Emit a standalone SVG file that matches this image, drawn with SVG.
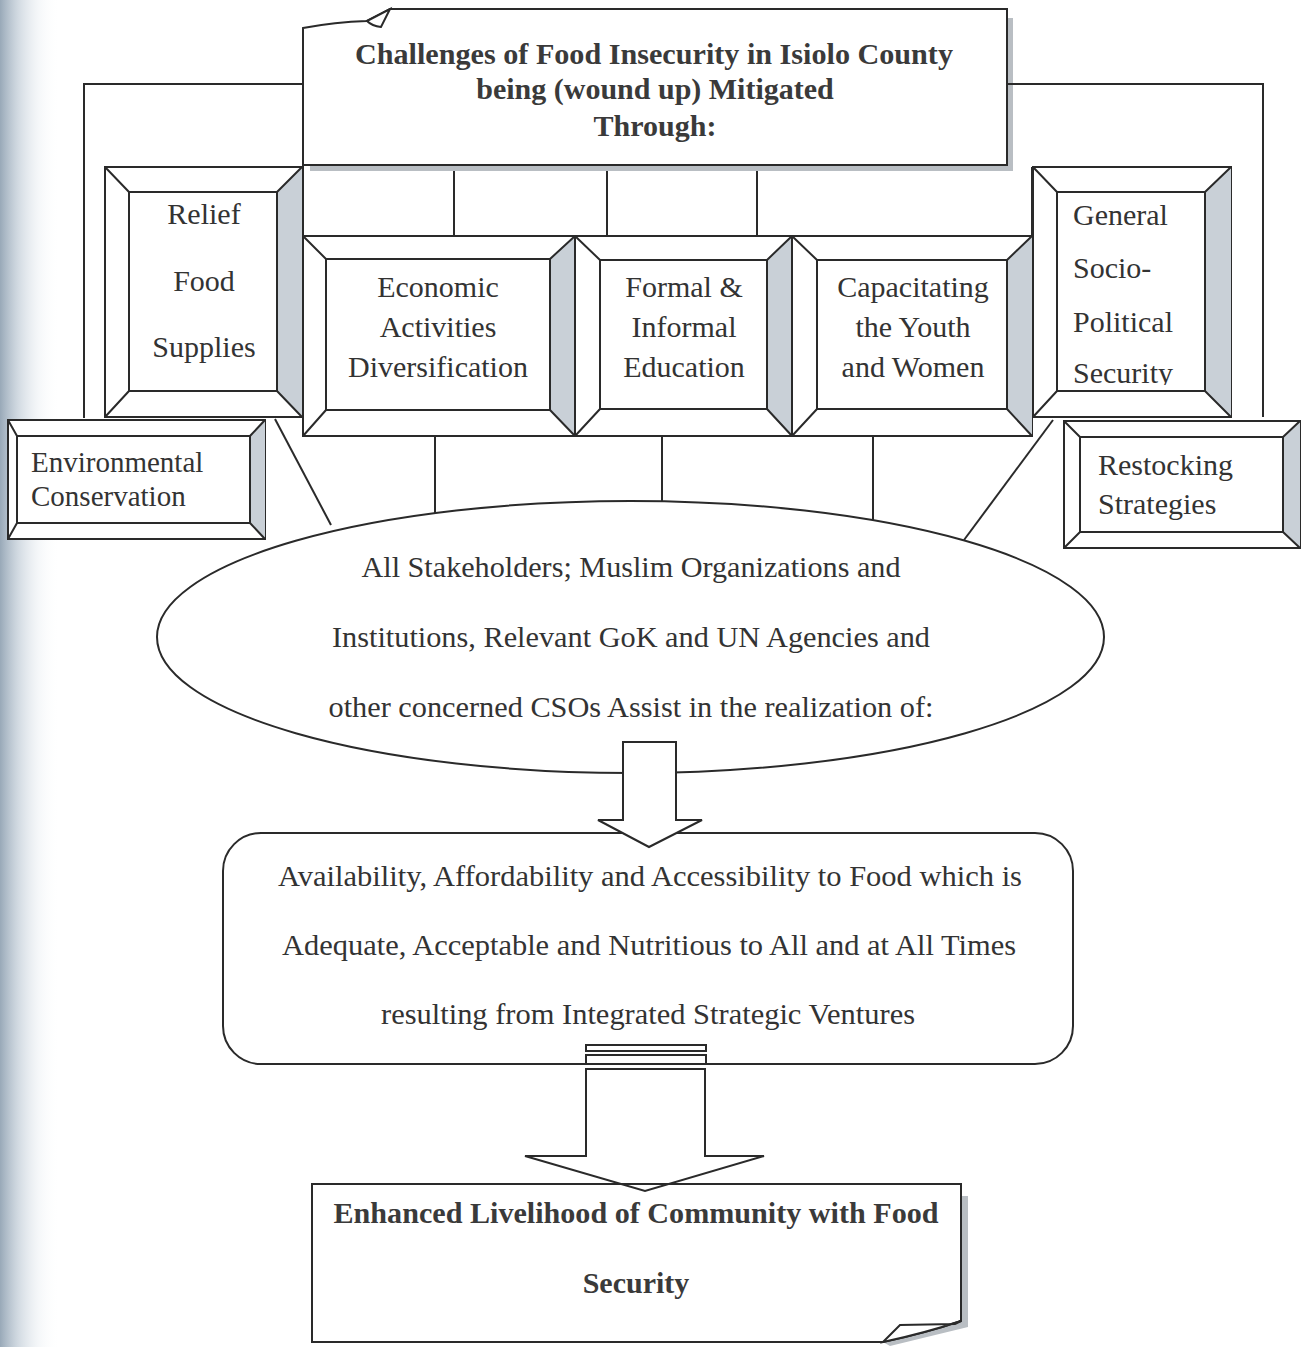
<svg xmlns="http://www.w3.org/2000/svg" width="1304" height="1347" viewBox="0 0 1304 1347">
  <defs>
    <linearGradient id="pageEdge" x1="0" y1="0" x2="1" y2="0">
      <stop offset="0" stop-color="#8d9fb0" stop-opacity="0.9"/>
      <stop offset="0.3" stop-color="#b3c1ce" stop-opacity="0.6"/>
      <stop offset="0.65" stop-color="#dfe6ec" stop-opacity="0.3"/>
      <stop offset="1" stop-color="#ffffff" stop-opacity="0"/>
    </linearGradient>
    <clipPath id="genClip">
      <rect x="1057" y="192" width="148" height="193"/>
    </clipPath>
  </defs>
  <style>
    .ln { fill: none; stroke: #2a2a2a; stroke-width: 2; }
    .box { fill: #ffffff; stroke: #2a2a2a; stroke-width: 2; }
    .bevel { fill: #c9d0d7; stroke: none; }
    .shadow { fill: #b9bec3; stroke: none; }
    .t { font-family: "Liberation Serif", "Times New Roman", serif; font-size: 30px; fill: #333333; }
    .tb { font-family: "Liberation Serif", "Times New Roman", serif; font-size: 30px; font-weight: bold; fill: #3a3a3a; }
    .c { text-anchor: middle; }
  </style>

  <rect x="0" y="0" width="1304" height="1347" fill="#ffffff"/>
  <rect x="0" y="0" width="60" height="1347" fill="url(#pageEdge)"/>

  <!-- Title box with curled top-left corner -->
  <g id="title">
    <rect class="shadow" x="1007" y="18" width="6" height="153"/>
    <rect class="shadow" x="310" y="165" width="703" height="6"/>
    <path class="box" d="M303,28 Q335,22 367,21 L390,9 H1007 V165 H303 Z"/>
    <path class="box" d="M367,21 L390,9 L381,27 Q372,26 367,21 Z"/>
    <text class="tb c" x="654" y="64" textLength="598" lengthAdjust="spacingAndGlyphs">Challenges of Food Insecurity in Isiolo County</text>
    <text class="tb c" x="655" y="99">being (wound up) Mitigated</text>
    <text class="tb c" x="655" y="136">Through:</text>
  </g>

  <!-- Beveled strategy boxes -->
  <g id="relief">
    <rect class="box" x="105" y="167" width="197" height="250"/>
    <polygon class="bevel" points="302,167 302,417 277,391 277,192"/>
    <rect class="box" x="129" y="192" width="148" height="199"/>
    <path class="ln" d="M105,167 L129,192 M302,167 L277,192 M105,417 L129,391 M302,417 L277,391"/>
    <text class="t c" x="204" y="224">Relief</text>
    <text class="t c" x="204" y="291">Food</text>
    <text class="t c" x="204" y="357">Supplies</text>
  </g>

  <g id="economic">
    <rect class="box" x="303" y="236" width="272" height="200"/>
    <polygon class="bevel" points="575,236 575,436 550,410 550,259"/>
    <rect class="box" x="326" y="259" width="224" height="151"/>
    <path class="ln" d="M303,236 L326,259 M575,236 L550,259 M303,436 L326,410 M575,436 L550,410"/>
    <text class="t c" x="438" y="297">Economic</text>
    <text class="t c" x="438" y="337">Activities</text>
    <text class="t c" x="438" y="377">Diversification</text>
  </g>

  <g id="education">
    <rect class="box" x="575" y="236" width="217" height="200"/>
    <polygon class="bevel" points="792,236 792,436 767,409 767,260"/>
    <rect class="box" x="600" y="260" width="167" height="149"/>
    <path class="ln" d="M575,236 L600,260 M792,236 L767,260 M575,436 L600,409 M792,436 L767,409"/>
    <text class="t c" x="684" y="297">Formal &amp;</text>
    <text class="t c" x="684" y="337">Informal</text>
    <text class="t c" x="684" y="377">Education</text>
  </g>

  <g id="youth">
    <rect class="box" x="792" y="236" width="240" height="200"/>
    <polygon class="bevel" points="1032,236 1032,436 1007,409 1007,260"/>
    <rect class="box" x="817" y="260" width="190" height="149"/>
    <path class="ln" d="M792,236 L817,260 M1032,236 L1007,260 M792,436 L817,409 M1032,436 L1007,409"/>
    <text class="t c" x="913" y="297">Capacitating</text>
    <text class="t c" x="913" y="337">the Youth</text>
    <text class="t c" x="913" y="377">and Women</text>
  </g>

  <g id="security">
    <rect class="box" x="1033" y="167" width="198" height="250"/>
    <polygon class="bevel" points="1231,167 1231,417 1205,391 1205,192"/>
    <rect class="box" x="1057" y="192" width="148" height="199"/>
    <path class="ln" d="M1033,167 L1057,192 M1231,167 L1205,192 M1033,417 L1057,391 M1231,417 L1205,391"/>
    <g clip-path="url(#genClip)">
      <text class="t" x="1073" y="225">General</text>
      <text class="t" x="1073" y="278">Socio-</text>
      <text class="t" x="1073" y="332">Political</text>
      <text class="t" x="1073" y="383">Security</text>
    </g>
  </g>

  <g id="environment">
    <rect class="box" x="8" y="420" width="257" height="119"/>
    <polygon class="bevel" points="265,420 265,539 250,523 250,436"/>
    <rect class="box" x="17" y="436" width="233" height="87"/>
    <path class="ln" d="M8,420 L17,436 M265,420 L250,436 M8,539 L17,523 M265,539 L250,523"/>
    <text class="t" x="31" y="472" style="font-size:29px">Environmental</text>
    <text class="t" x="31" y="506" style="font-size:29px">Conservation</text>
  </g>

  <g id="restocking">
    <rect class="box" x="1064" y="421" width="236" height="127"/>
    <polygon class="bevel" points="1300,421 1300,548 1283,532 1283,437"/>
    <rect class="box" x="1080" y="437" width="203" height="95"/>
    <path class="ln" d="M1064,421 L1080,437 M1300,421 L1283,437 M1064,548 L1080,532 M1300,548 L1283,532"/>
    <text class="t" x="1098" y="475">Restocking</text>
    <text class="t" x="1098" y="514">Strategies</text>
  </g>

  <!-- Stakeholders ellipse -->
  <g id="stakeholders">
    <ellipse class="box" cx="630.5" cy="637" rx="473.5" ry="136"/>
    <text class="t c" x="631" y="577" textLength="539" lengthAdjust="spacingAndGlyphs">All Stakeholders; Muslim Organizations and</text>
    <text class="t c" x="631" y="647" textLength="598" lengthAdjust="spacingAndGlyphs">Institutions, Relevant GoK and UN Agencies and</text>
    <text class="t c" x="631" y="717" textLength="605" lengthAdjust="spacingAndGlyphs">other concerned CSOs Assist in the realization of:</text>
  </g>

  <!-- Food availability outcome -->
  <g id="availability">
    <rect class="box" x="223" y="833" width="850" height="231" rx="38" ry="38"/>
    <text class="t c" x="650" y="886" textLength="744" lengthAdjust="spacingAndGlyphs">Availability, Affordability and Accessibility to Food which is</text>
    <text class="t c" x="649" y="955" textLength="734" lengthAdjust="spacingAndGlyphs">Adequate, Acceptable and Nutritious to All and at All Times</text>
    <text class="t c" x="648" y="1024" textLength="534" lengthAdjust="spacingAndGlyphs">resulting from Integrated Strategic Ventures</text>
  </g>

  <!-- Connectors: frame lines, branch lines and block arrows -->
  <g id="connectors">
    <path class="ln" d="M303,84 H84 V418"/>
    <path class="ln" d="M1007,84 H1263 V417"/>
    <path class="ln" d="M303,165 V236 M1032,167 V236 M454,171 V236 M607,171 V236 M757,171 V236"/>
    <path class="ln" d="M435,436 V513 M662,436 V501 M873,436 V521"/>
    <path class="ln" d="M275,419 L331,525"/>
    <path class="ln" d="M1053,420 L964,540"/>
    <polygon class="box" points="623,742 676,742 676,820 702,820 649,847 598,820 623,820"/>
    <rect class="box" x="586" y="1045" width="120" height="6"/>
    <rect class="box" x="586" y="1055" width="120" height="9"/>
    <polygon class="box" points="586,1069 705,1069 705,1156 764,1156 645,1191 525,1156 586,1156"/>
  </g>

  <!-- Final outcome box with curled bottom-right corner -->
  <g id="livelihood">
    <rect class="shadow" x="961" y="1196" width="7" height="126"/>
    <polygon class="shadow" points="968,1318 961,1321 883,1342 890,1346 968,1327"/>
    <path class="ln" d="M312,1184 H961 V1321 Q925,1333 883,1342 H312 Z"/>
    <path class="box" d="M883,1342 L900,1325 L955,1324 L961,1321 Q925,1333 883,1342 Z"/>
    <text class="tb c" x="636" y="1223" textLength="605" lengthAdjust="spacingAndGlyphs">Enhanced Livelihood of Community with Food</text>
    <text class="tb c" x="636" y="1293">Security</text>
  </g>
</svg>
